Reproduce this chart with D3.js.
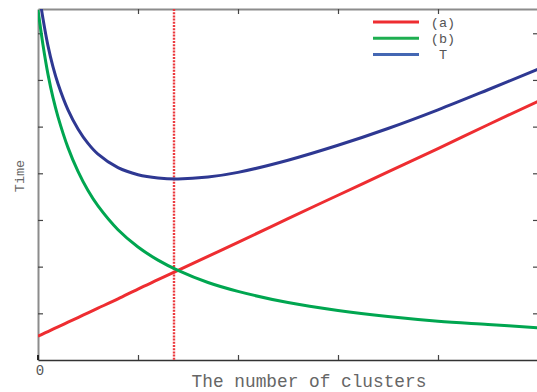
<!DOCTYPE html>
<html lang="en">
<head>
<meta charset="UTF-8">
<title>Time vs number of clusters</title>
<script src="https://d3js.org/d3.v7.min.js"></script>
<style>
    body { margin: 0; background: #fff; }
    svg { display: block; }
    text { font-family: "Liberation Mono", "DejaVu Sans Mono", monospace; fill: #555; }
</style>
</head>
<body>
<svg width="537" height="392"></svg>
<script>
    // values (x = clusters in tick units, y = time in tick units)
    const xTicks = [1, 2, 3, 4];
    const yTicks = [1, 2, 3, 4, 5, 6, 7];
    const seriesNames = ["(a)", "(b)", "T"];

    const clusters = [0, 0.05, 0.1, 0.15, 0.2, 0.3, 0.4, 0.5, 0.6, 0.8, 1.0,
                      1.2, 1.4, 1.7, 2.0, 2.5, 3.0, 3.5, 4.0, 4.5, 5.0];
    const timeA = [0.51, 0.56, 0.61, 0.66, 0.71, 0.81, 0.91, 1.01, 1.11, 1.31, 1.52,
                   1.72, 1.92, 2.22, 2.52, 3.03, 3.53, 4.03, 4.53, 5.04, 5.54];
    const timeB = [7.5, 6.75, 6.12, 5.62, 5.21, 4.55, 4.04, 3.63, 3.30, 2.79, 2.42,
                   2.14, 1.92, 1.66, 1.47, 1.23, 1.06, 0.93, 0.83, 0.76, 0.69];
    const timeT = [8.01, 7.31, 6.73, 6.28, 5.92, 5.36, 4.95, 4.64, 4.41, 4.12, 3.97,
                   3.90, 3.88, 3.92, 4.02, 4.28, 4.60, 4.96, 5.36, 5.79, 6.23];
    const optimalK = 1.36;

    const svg = d3.select("svg");
    const mLeft = 38, mRight = 538, mTop = 9, mBottom = 360;

    const x = d3.scaleLinear().domain([0, 5]).range([mLeft, mRight]);
    const y = d3.scaleLinear().domain([0, 7.52]).range([mBottom, mTop]);

    svg.append("clipPath").attr("id", "plot")
        .append("rect")
        .attr("x", mLeft).attr("y", mTop)
        .attr("width", mRight - mLeft).attr("height", mBottom - mTop);

    // axes, ticks pointing inward, no labels
    const axes = [
        { axis: d3.axisLeft(y).tickValues(yTicks), at: `translate(${mLeft},0)` },
        { axis: d3.axisRight(y).tickValues(yTicks), at: `translate(${mRight},0)` },
        { axis: d3.axisTop(x).tickValues(xTicks), at: `translate(0,${mTop})` },
        { axis: d3.axisBottom(x).tickValues(xTicks), at: `translate(0,${mBottom})` }
    ];
    axes.forEach((a, i) => {
        const g = svg.append("g")
            .attr("transform", a.at)
            .call(a.axis.tickSize(-5).tickSizeOuter(0).tickFormat(""));
        g.selectAll(".tick line").attr("stroke", "#444").attr("stroke-width", 1.2);
        g.select(".domain")
            .attr("stroke", i === 3 ? "#333" : "#8c8c8c")
            .attr("stroke-width", i === 3 ? 1.5 : 2);
    });
    // small dark corner at the origin
    svg.append("line")
        .attr("x1", mLeft).attr("x2", mLeft)
        .attr("y1", mBottom - 5).attr("y2", mBottom)
        .attr("stroke", "#222").attr("stroke-width", 2);

    const line = d3.line()
        .x(d => x(d[0]))
        .y(d => y(d[1]))
        .curve(d3.curveCatmullRom.alpha(0.5));

    const plot = svg.append("g").attr("clip-path", "url(#plot)");

    // dotted vertical marker at the minimum of T
    plot.append("line")
        .attr("x1", x(optimalK)).attr("x2", x(optimalK))
        .attr("y1", mTop).attr("y2", mBottom)
        .attr("stroke", "#ec3a3f")
        .attr("stroke-width", 2.4)
        .attr("stroke-dasharray", "2,1.2");

    const curves = [
        { values: timeA, color: "#ee2d31", legend: "#ee2d31" },
        { values: timeB, color: "#00a650", legend: "#1eae50" },
        { values: timeT, color: "#2e3892", legend: "#4467b3" }
    ];

    curves.forEach(c => {
        plot.append("path")
            .datum(d3.zip(clusters, c.values))
            .attr("fill", "none")
            .attr("stroke", c.color)
            .attr("stroke-width", 3)
            .attr("d", line);
    });

    // legend
    const legend = svg.append("g").attr("transform", "translate(373,22)");
    seriesNames.forEach((name, i) => {
        legend.append("line")
            .attr("x1", 0).attr("x2", 46)
            .attr("y1", i * 16.3).attr("y2", i * 16.3)
            .attr("stroke", curves[i].legend)
            .attr("stroke-width", 3);
        legend.append("text")
            .attr("x", 70).attr("y", i * 16.3 + 4.5)
            .attr("text-anchor", "middle")
            .style("font-size", "13.5px")
            .text(name);
    });

    // tick label and titles
    svg.append("text")
        .attr("x", x(0) + 2).attr("y", 375)
        .attr("text-anchor", "middle")
        .style("font-size", "14px")
        .text("0");

    svg.append("text")
        .attr("x", 309).attr("y", 387)
        .attr("text-anchor", "middle")
        .style("font-size", "17.8px")
        .style("fill", "#666")
        .text("The number of clusters");

    svg.append("text")
        .attr("transform", "translate(24,176) rotate(-90)")
        .attr("text-anchor", "middle")
        .style("font-size", "13.5px")
        .style("fill", "#666")
        .text("Time");
</script>
</body>
</html>
